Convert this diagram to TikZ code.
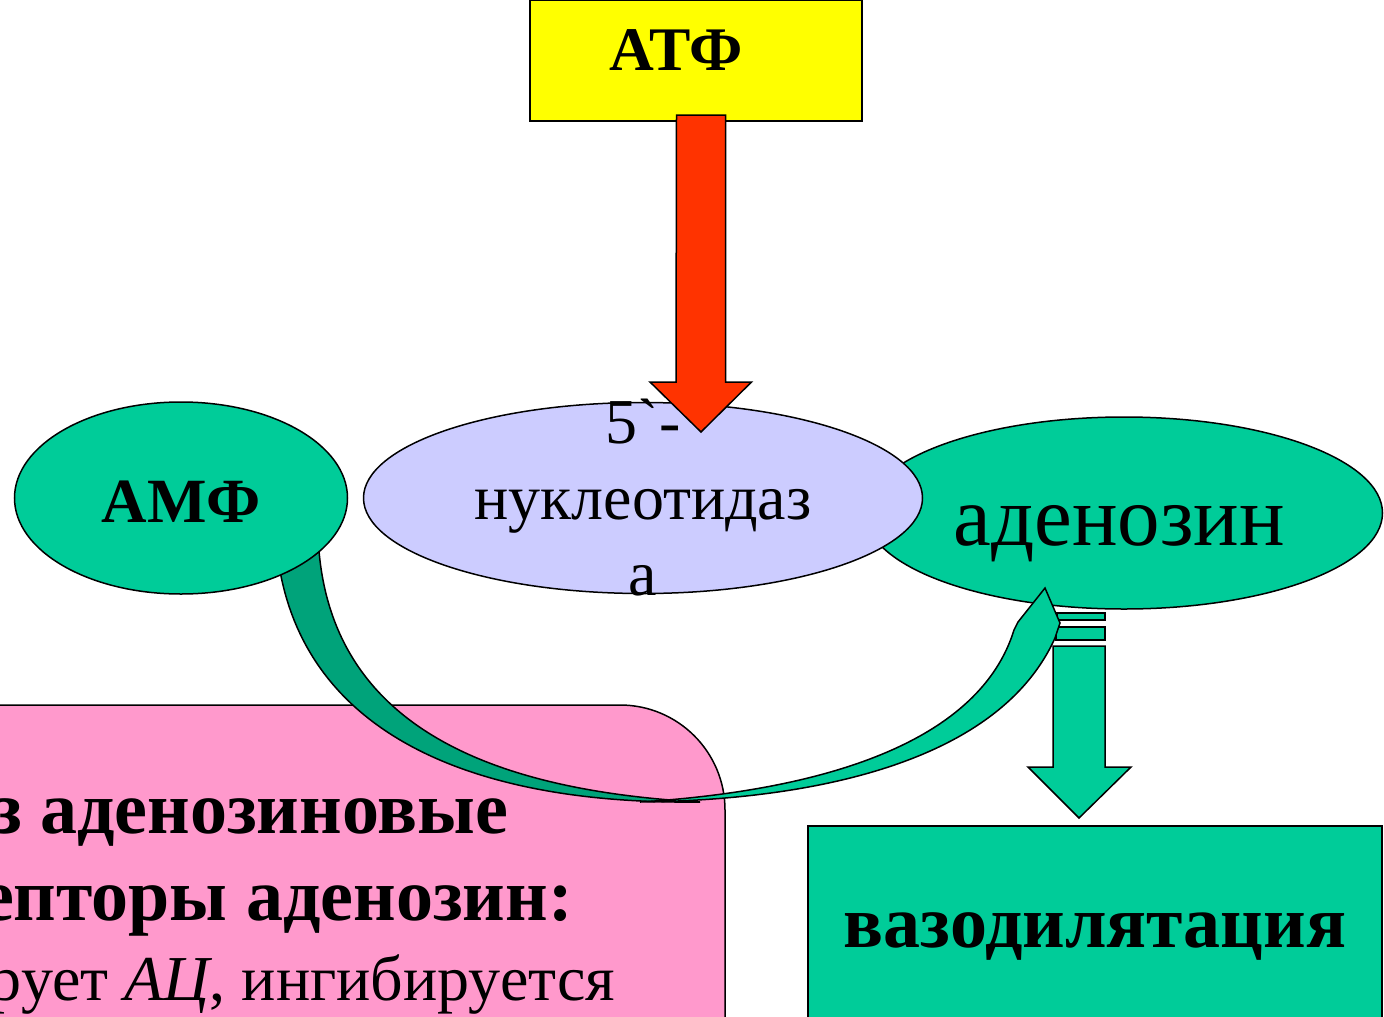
\documentclass[tikz,border=0pt]{standalone}
\usepackage{fontspec}
\setmainfont{Liberation Serif}[Ligatures=TeXOff]
\usetikzlibrary{shapes.geometric,calc}
\definecolor{mintgreen}{HTML}{00CC99}
\definecolor{shadegreen}{HTML}{00A37A}
\definecolor{atpyellow}{HTML}{FFFF00}
\definecolor{arrowred}{HTML}{FF3300}
\definecolor{enzymeblue}{HTML}{CCCCFF}
\definecolor{notepink}{HTML}{FF99CC}
\newcommand{\fsz}[2]{\fontsize{#1}{#2}\selectfont}

\begin{document}
\begin{tikzpicture}[x=1pt, y=-1pt,
  every node/.style={inner sep=0pt, outer sep=0pt, align=center},
  outline/.style={draw=black, line width=1.5pt, line join=miter},
  oval/.style={outline, ellipse},
  box/.style={outline, rectangle, anchor=north west}]

  \clip (0,0) rectangle (1384,1017);
  \fill[white] (0,0) rectangle (1384,1017);

  % note box, cut by the page
  \draw[outline, fill=notepink] (-20,1040) -- (-20,705) -- (620,705)
    arc[start angle=-90, end angle=0, radius=105] -- (725,1040) -- cycle;
  \node[anchor=base west, font=\bfseries\fsz{74}{74}] (noteA) at (-8,833) {з аденозиновые};
  \node[anchor=base west, font=\bfseries\fsz{74}{74}] (noteB) at (-19,920) {епторы аденозин:};
  \node[anchor=base west, font=\fsz{64}{64}] (noteC) at (-10,1000) {рует \textit{АЦ}, ингибируется};

  % ovals of the chain
  \node[oval, fill=mintgreen, minimum width=517, minimum height=192,
        text height=64, text depth=0, font=\fsz{85}{85}] (aden) at (1124,513) {аденозин\hspace*{10pt}};
  \node[oval, fill=enzymeblue, minimum width=559, minimum height=191] (nuc) at (643,498) {};
  \node[font=\fsz{64}{76}] (nuctext) at (nuc.center) {5\symbol{96}-\\нуклеотидаз\\а};

  % ATP box and the red arrow
  \node[box, fill=atpyellow, minimum width=332, minimum height=121,
        text height=40, text depth=21, font=\bfseries\fsz{62}{62}] (atf) at (530,0) {АТФ\hspace*{40pt}};
  \coordinate (redtail) at ($(atf.south)+(5,-6)$);
  \coordinate (redtip) at (701,432);
  \draw[outline, fill=arrowred] (redtail) ++(-24.5,0) -- ++(49,0) -- ++(0,267)
    -- ++(26,0) -- (redtip) -- ++(-51,-50) -- ++(26,0) -- cycle;

  % striped arrow down to the result
  \coordinate (vtip) at (1079,818);
  \draw[outline, fill=mintgreen] (1057,613) rectangle (1105,620);
  \draw[outline, fill=mintgreen] (1056,627) rectangle (1105,640);
  \draw[outline, fill=mintgreen] (1053,646) -- (1105,646) -- (1105,767)
    -- (1131,767) -- (vtip) -- (1028,767) -- (1053,767) -- cycle;

  % curved arrow AMP -> adenosine
  \draw[outline, fill=shadegreen] (276,540) .. controls (290,720) and (450,805) .. (700,802)
    .. controls (480,790) and (325,720) .. (318,535) -- cycle;
  \draw[outline, fill=mintgreen] (640,802) .. controls (820,800) and (1000,760) .. (1055,638)
    -- (1060,623) -- (1045,588) -- (1018,622) -- (1014,630)
    .. controls (980,740) and (830,790) .. (640,802) -- cycle;

  \node[oval, fill=mintgreen, minimum width=333, minimum height=192,
        text height=48, text depth=0, font=\bfseries\fsz{63}{63}] (amf) at (181,498) {АМФ};

  \node[box, fill=mintgreen, minimum width=574, minimum height=260,
        text height=20, text depth=38, font=\bfseries\fsz{74}{74}] (vaso) at (808,826) {вазодилятация};
\end{tikzpicture}
\end{document}
